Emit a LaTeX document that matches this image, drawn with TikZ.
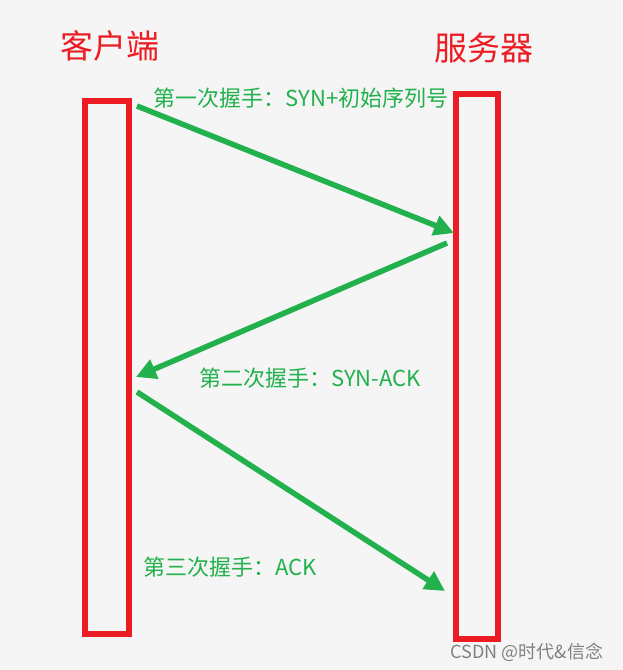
\documentclass[tikz,border=0pt]{standalone}
\usepackage{fontspec}
\setmainfont{Noto Sans CJK SC}
\usetikzlibrary{arrows.meta}
\definecolor{bg}{HTML}{F5F5F5}
\definecolor{rd}{HTML}{EC1C24}
\definecolor{gr}{HTML}{22B14C}
\begin{document}
\begin{tikzpicture}[x=1pt,y=-1pt,
  bar/.style={draw=rd,line width=6pt},
  msg/.style={draw=gr,line width=5.5pt,-{Triangle[length=20pt,width=20pt]}},
  lbl/.style={text=gr,font=\fontsize{22}{26}\selectfont,inner sep=0pt},
  ttl/.style={text=rd,font=\fontsize{33}{38}\selectfont,inner sep=0pt}]
\fill[bg] (0,0) rectangle (623,670);
\useasboundingbox (0,0) rectangle (623,670);
\draw[bar] (85,101) rectangle (129,634);
\draw[bar] (456,94) rectangle (498,639);
\node[ttl] (c) at (110,46) {客户端};
\node[ttl] (s) at (484,48) {服务器};
\coordinate (a1) at (137,106); \coordinate (b1) at (454,233);
\coordinate (a2) at (447,243); \coordinate (b2) at (136,377);
\coordinate (a3) at (137,392); \coordinate (b3) at (445,591);
\draw[msg] (a1) -- (b1);
\draw[msg] (a2) -- (b2);
\draw[msg] (a3) -- (b3);
\node[lbl] (l1) at (301,98) {第一次握手：SYN+初始序列号};
\node[lbl] (l2) at (310,378) {第二次握手：SYN-ACK};
\node[lbl] (l3) at (230,567) {第三次握手：ACK};
\node[text=gray,font=\fontsize{18}{20}\selectfont,inner sep=0pt] (w) at (527,652) {CSDN @时代\&信念};
\end{tikzpicture}
\end{document}
